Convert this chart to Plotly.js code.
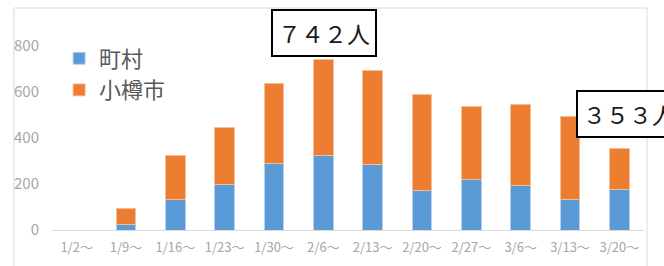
<!DOCTYPE html>
<html><head><meta charset="utf-8">
<script src="https://cdn.plot.ly/plotly-3.0.1.min.js"></script>
<style>html,body{margin:0;padding:0;background:#fff;}#chart{width:664px;height:266px;}</style>
</head><body><div id="chart"></div>
<script>
var categories = ["1/2～","1/9～","1/16～","1/23～","1/30～","2/6～","2/13～","2/20～","2/27～","3/6～","3/13～","3/20～"];
var townVillage = [0, 23, 133, 200, 291, 325, 283, 171, 219, 193, 133, 177];
var otaru = [0, 71, 192, 245, 347, 417, 410, 417, 320, 354, 360, 176];
var seriesNames = ["町村", "小樽市"];
var yTicks = [0, 200, 400, 600, 800];

function fullWidth(n){ return String(n).split("").map(function(c){return String.fromCharCode(c.charCodeAt(0)+0xFEE0);}).join(""); }
var totals = townVillage.map(function(v,i){return v+otaru[i];});
var peakIdx = 5, lastIdx = categories.length-1;

var font = "Noto Sans CJK JP, sans-serif";
var traces = [
  {type:"bar", x:categories, y:townVillage, name:seriesNames[0], legendgroup:"a",
   marker:{color:"#5B9BD5", line:{color:"#B4D0EE", width:1}}},
  {type:"bar", x:categories, y:otaru, name:seriesNames[1], legendgroup:"b",
   marker:{color:"#ED7D31", line:{color:"#F6BE98", width:1}}}
];
var layout = {
  width:664, height:266, barmode:"stack", bargap:0.6,
  margin:{l:52, r:20, t:23, b:36},
  paper_bgcolor:"#fff", plot_bgcolor:"#fff",
  font:{family:font, color:"#595959"},
  showlegend:true,
  legend:{x:0.012, y:0.93, xanchor:"left", yanchor:"top", bgcolor:"rgba(0,0,0,0)",
    font:{size:22, color:"#595959", family:font}, traceorder:"normal", tracegroupgap:8, itemwidth:30},
  xaxis:{showgrid:false, zeroline:false, showline:false, ticks:"", ticklabelstandoff:8,
    tickfont:{size:13, color:"#A6A6A6", family:font}, fixedrange:true},
  yaxis:{range:[0,900], tickvals:yTicks, showgrid:false, zeroline:true, zerolinecolor:"#D9D9D9", zerolinewidth:1,
    showline:false, ticks:"", ticklabelstandoff:12,
    tickfont:{size:15, color:"#A6A6A6", family:font}, fixedrange:true},
  shapes:[{type:"rect", xref:"paper", yref:"paper", x0:-0.0642, x1:1.005, y0:-0.25, y1:1.0725,
    line:{color:"#D9D9D9", width:1}, fillcolor:"rgba(0,0,0,0)", layer:"below"}],
  annotations:[
    {xref:"paper", yref:"paper", x:(323.5-52)/592, y:(230-32.5)/207, xanchor:"center", yanchor:"middle",
     text:fullWidth(totals[peakIdx])+"人", showarrow:false, font:{size:23, color:"#1a1a1a", family:font},
     bgcolor:"#fff", bordercolor:"#000", borderwidth:2, borderpad:5},
    {xref:"paper", yref:"paper", x:(576-52)/592, y:(230-113.5)/207, xanchor:"left", yanchor:"middle",
     text:fullWidth(totals[lastIdx])+"人", showarrow:false, font:{size:23, color:"#1a1a1a", family:font},
     bgcolor:"#fff", bordercolor:"#000", borderwidth:2, borderpad:5}
  ]
};
Plotly.newPlot("chart", traces, layout, {displayModeBar:false, staticPlot:true});
</script></body></html>
